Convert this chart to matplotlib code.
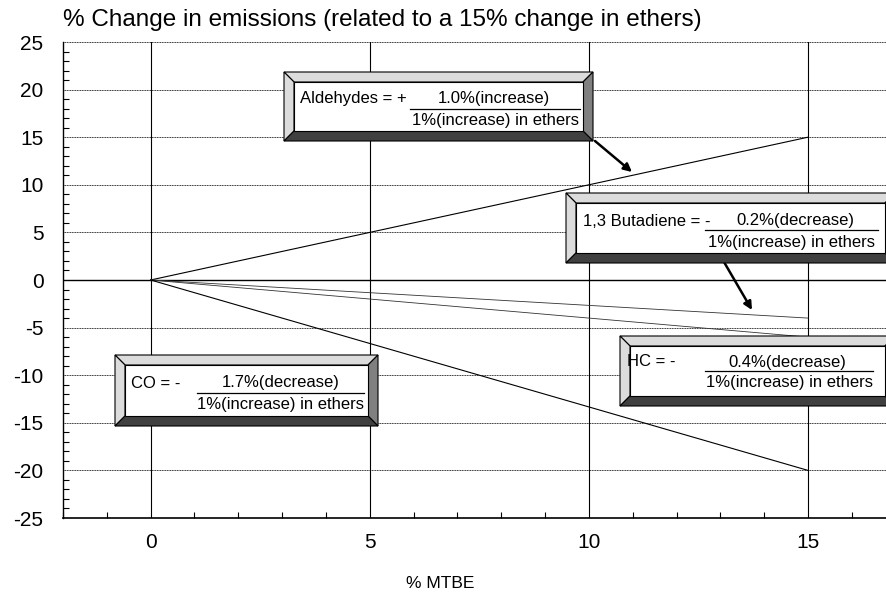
import numpy as np
import matplotlib.pyplot as plt
from matplotlib.patches import Polygon
from matplotlib.ticker import MultipleLocator

plt.rcParams['font.family'] = ['Liberation Sans', 'DejaVu Sans']
plt.rcParams['axes.unicode_minus'] = False

# data: each series is a straight line from 0% to 15% MTBE
x_pts = [0, 15]
aldehydes = [0, 15]
butadiene = [0, -4]
hc = [0, -6]
co = [0, -20]

W, H = 886, 601
fig = plt.figure(figsize=(W / 100, H / 100), dpi=100)
ax = fig.add_axes([63 / W, 1 - 518 / H, 1 - 63 / W, (518 - 42) / H])

ax.set_xlim(-2, 16.78)
ax.set_ylim(-25, 25)

# grid
for yv in range(-20, 26, 5):
    if yv == 0:
        ax.axhline(0, color='black', lw=1.0, zorder=1)
    else:
        ax.axhline(yv, color='black', lw=0.6, ls=(0, (1.2, 0.8)), zorder=1)
for xv in [0, 5, 10, 15]:
    ax.axvline(xv, color='black', lw=0.8, zorder=1)

ax.plot(x_pts, aldehydes, color='black', lw=0.8, zorder=2)
ax.plot(x_pts, butadiene, color='#333333', lw=0.6, zorder=2)
ax.plot(x_pts, hc, color='#333333', lw=0.6, zorder=2)
ax.plot(x_pts, co, color='black', lw=0.8, zorder=2)

ax.set_xticks([0, 5, 10, 15])
ax.set_yticks(range(-25, 26, 5))
ax.xaxis.set_minor_locator(MultipleLocator(1))
ax.yaxis.set_minor_locator(MultipleLocator(1))
ax.tick_params(which='major', length=0, labelsize=15)
ax.tick_params(axis='x', which='major', pad=11)
ax.tick_params(axis='y', which='major', pad=14)
ax.tick_params(which='minor', direction='in', length=4, width=0.8)
ax.spines['right'].set_visible(False)
ax.spines['top'].set_visible(False)
ax.spines['left'].set_linewidth(1.0)
ax.spines['bottom'].set_linewidth(1.2)

fig.text(63 / W, 1 - 20 / H, '% Change in emissions (related to a 15% change in ethers)',
         fontsize=17.5, ha='left', va='center')
fig.text(440 / W, 1 - 583 / H, '% MTBE', fontsize=12.5, ha='center', va='center')


def fx(px):
    return px / W


def fy(py):
    return 1 - py / H


def bevel_box(x0, y0, x1, y1, b=10):
    ox = [(x0, y0), (x1, y0), (x1, y1), (x0, y1)]
    ix = [(x0 + b, y0 + b), (x1 - b, y0 + b), (x1 - b, y1 - b), (x0 + b, y1 - b)]
    faces = [
        ([ox[0], ox[1], ix[1], ix[0]], '#dcdcdc'),  # top
        ([ox[0], ix[0], ix[3], ox[3]], '#dcdcdc'),  # left
        ([ox[1], ox[2], ix[2], ix[1]], '#808080'),  # right
        ([ox[3], ox[2], ix[2], ix[3]], '#404040'),  # bottom
        (ix, 'white'),
    ]
    for pts, col in faces:
        p = Polygon([(fx(a), fy(c)) for a, c in pts], closed=True, facecolor=col,
                    edgecolor='black', lw=0.8, transform=fig.transFigure, zorder=5)
        fig.add_artist(p)


def fraction(lx, ly, label, num, cx, x_l, x_r, ly_line, dy):
    fig.text(fx(lx), fy(ly), label, fontsize=12, ha='left', va='center', zorder=6)
    fig.text(fx(cx), fy(ly), num, fontsize=12, ha='center', va='center', zorder=6)
    fig.add_artist(plt.Line2D([fx(x_l), fx(x_r)], [fy(ly_line), fy(ly_line)],
                              color='black', lw=0.9, transform=fig.transFigure, zorder=6))
    fig.text(fx((x_l + x_r) / 2), fy(dy), '1%(increase) in ethers', fontsize=12,
             ha='center', va='center', zorder=6)


bevel_box(284, 72, 593, 141)
fraction(300, 99, 'Aldehydes = +', '1.0%(increase)', 494, 410, 580, 109, 120)

bevel_box(566, 193, 895, 263)
fraction(583, 221, '1,3 Butadiene = -', '0.2%(decrease)', 795, 705, 878, 230, 242)

bevel_box(115, 355, 378, 426)
fraction(131, 383, 'CO = -', '1.7%(decrease)', 281, 197, 364, 393, 404)

bevel_box(620, 336, 895, 406)
fraction(627, 362, 'HC = -', '0.4%(decrease)', 787, 705, 873, 371, 383)

# arrows
for (xa, ya, xb, yb) in [(595, 141, 632, 172), (724, 262, 752, 310)]:
    ax.annotate('', xy=(fx(xb), fy(yb)), xytext=(fx(xa), fy(ya)),
                xycoords='figure fraction', textcoords='figure fraction',
                arrowprops=dict(arrowstyle='-|>', color='black', lw=1.8,
                                mutation_scale=12, shrinkA=0, shrinkB=0), zorder=7)

fig.savefig('out.png', dpi=100)
